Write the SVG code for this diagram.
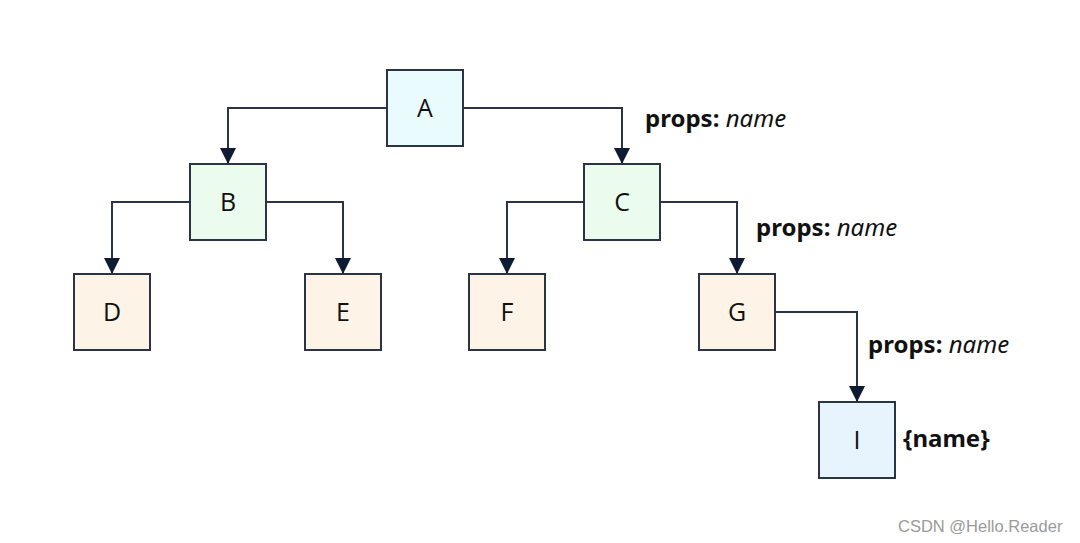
<svg xmlns="http://www.w3.org/2000/svg" width="1080" height="543" viewBox="0 0 1080 543">
<defs>
<style>
.box{stroke:#2b3445;stroke-width:2}
.lbl{font-family:"Open Sans","Noto Sans",sans-serif;font-size:25px;fill:#111;text-anchor:middle}
.edge{fill:none;stroke:#2b3445;stroke-width:2}
.pl{font-family:"Noto Sans","Open Sans",sans-serif;font-size:24px;fill:#111}
.b{font-weight:bold}
.i{font-style:italic}
</style>
<marker id="ah" markerWidth="16" markerHeight="16" refX="15" refY="8" orient="auto" markerUnits="userSpaceOnUse" viewBox="0 0 16 16">
<path d="M0,0 L16,8 L0,16 Z" fill="#0f1a33"/>
</marker>
</defs>
<rect width="1080" height="543" fill="#ffffff"/>
<g id="connectors">
<path class="edge" d="M387,108 H228 V163" marker-end="url(#ah)"/>
<path class="edge" d="M463,108 H622 V163" marker-end="url(#ah)"/>
<path class="edge" d="M190,202 H112 V273" marker-end="url(#ah)"/>
<path class="edge" d="M266,202 H343 V273" marker-end="url(#ah)"/>
<path class="edge" d="M584,202 H507 V273" marker-end="url(#ah)"/>
<path class="edge" d="M660,202 H737 V273" marker-end="url(#ah)"/>
<path class="edge" d="M775,312 H857 V401" marker-end="url(#ah)"/>
<text class="pl" x="645" y="127"><tspan class="b">props:</tspan> <tspan class="i">name</tspan></text>
<text class="pl" x="756" y="236"><tspan class="b">props:</tspan> <tspan class="i">name</tspan></text>
<text class="pl" x="868" y="353"><tspan class="b">props:</tspan> <tspan class="i">name</tspan></text>
</g>
<g id="A"><rect class="box" x="387" y="70" width="76" height="76" fill="#e9fbfd"/><text class="lbl" x="425" y="117">A</text></g>
<g id="B"><rect class="box" x="190" y="164" width="76" height="76" fill="#ebfbed"/><text class="lbl" x="228" y="211">B</text></g>
<g id="C"><rect class="box" x="584" y="164" width="76" height="76" fill="#ebfbed"/><text class="lbl" x="622" y="211">C</text></g>
<g id="D"><rect class="box" x="74" y="274" width="76" height="76" fill="#fdf4e7"/><text class="lbl" x="112" y="321">D</text></g>
<g id="E"><rect class="box" x="305" y="274" width="76" height="76" fill="#fdf4e7"/><text class="lbl" x="343" y="321">E</text></g>
<g id="F"><rect class="box" x="469" y="274" width="76" height="76" fill="#fdf4e7"/><text class="lbl" x="507" y="321">F</text></g>
<g id="G"><rect class="box" x="699" y="274" width="76" height="76" fill="#fdf4e7"/><text class="lbl" x="737" y="321">G</text></g>
<g id="I"><rect class="box" x="819" y="402" width="76" height="76" fill="#e7f3fd"/><text class="lbl" x="857" y="449">I</text><text class="pl b" x="903" y="447">{name}</text></g>
<text x="898" y="532" font-family="Liberation Sans, Arial, sans-serif" font-size="16.5" fill="#9a9a9a">CSDN @Hello.Reader</text>
</svg>
